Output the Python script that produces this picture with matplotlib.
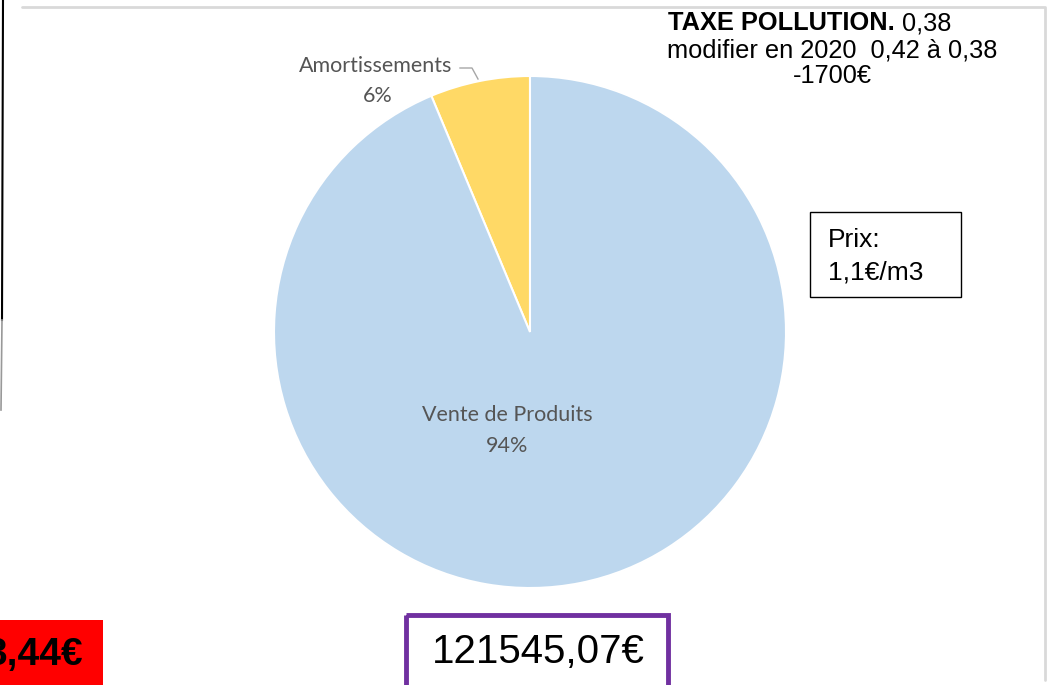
import matplotlib.pyplot as plt
from matplotlib.patches import Rectangle

# données du camembert
categories = ['Amortissements', 'Vente de Produits']
valeurs = [6.3, 93.7]
couleurs = ['#FFD966', '#BDD7EE']

total = '121545,07€'
resultat = '3,44€'
prix = ['Prix:', '1,1€/m3']
taxe = ['TAXE POLLUTION.', ' 0,38', 'modifier en 2020  0,42 à 0,38', '-1700€']

fig = plt.figure(figsize=(10.5, 6.85), dpi=100)
ax = fig.add_axes([0, 0, 1, 1])

# pie in pixel coordinates (y going down)
wedges, _ = ax.pie(valeurs, colors=couleurs, startangle=-90, counterclock=False,
                   center=(530, 332), radius=256,
                   wedgeprops=dict(edgecolor='white', linewidth=1.5))
ax.set_xlim(0, 1050)
ax.set_ylim(685, 0)
ax.set_aspect('auto')
ax.axis('off')

pct = [v / sum(valeurs) * 100 for v in valeurs]
lab_font = dict(family='Lato', fontsize=15.5, color='#555555', ha='center', va='center')
ax.text(376, 66, categories[0], **lab_font)
ax.text(378, 96, f'{pct[0]:.0f}%', **lab_font)
ax.plot([460, 472, 478], [68, 68, 79], color='#A6A6A6', lw=1)
ax.text(507, 415, categories[1], **lab_font)
ax.text(507, 446, f'{pct[1]:.0f}%', **lab_font)

# cadre gris de la capture
ax.plot([22, 1045, 1045], [7, 7, 680], color='#D9D9D9', lw=2, solid_capstyle='round')
ax.plot([3, 2], [0, 320], color='black', lw=1.5)
ax.plot([2, 1], [320, 410], color='#999999', lw=1.2)

# texte taxe pollution
txt_font = dict(family='Liberation Sans', fontsize=18.3, color='black', va='center')
t1 = ax.text(668, 23, taxe[0], fontweight='bold', **txt_font)
fig.canvas.draw()
bb = t1.get_window_extent().transformed(ax.transData.inverted())
ax.text(bb.x1, 23, taxe[1], **txt_font)
ax.text(667, 50, taxe[2], **txt_font)
ax.text(832, 76, taxe[3], ha='center', family='Liberation Sans', fontsize=18.3, va='center')

# boite prix
ax.add_patch(Rectangle((810, 212), 151, 85, fill=False, edgecolor='black', lw=1))
ax.text(828, 240, prix[0], family='Liberation Sans', fontsize=19, va='center')
ax.text(828, 272, prix[1], family='Liberation Sans', fontsize=19, va='center')

# boite rouge
ax.add_patch(Rectangle((0, 620), 103, 80, facecolor='#FF0000', edgecolor='none'))
ax.text(83, 655, resultat, family='Liberation Sans', fontsize=28, fontweight='bold',
        ha='right', va='center')

# boite violette total
ax.add_patch(Rectangle((406, 615), 262, 90, fill=False, edgecolor='#7030A0', lw=3.5))
ax.text(538, 652, total, family='Liberation Sans', fontsize=29, ha='center', va='center')

fig.savefig('out.png', dpi=100)
